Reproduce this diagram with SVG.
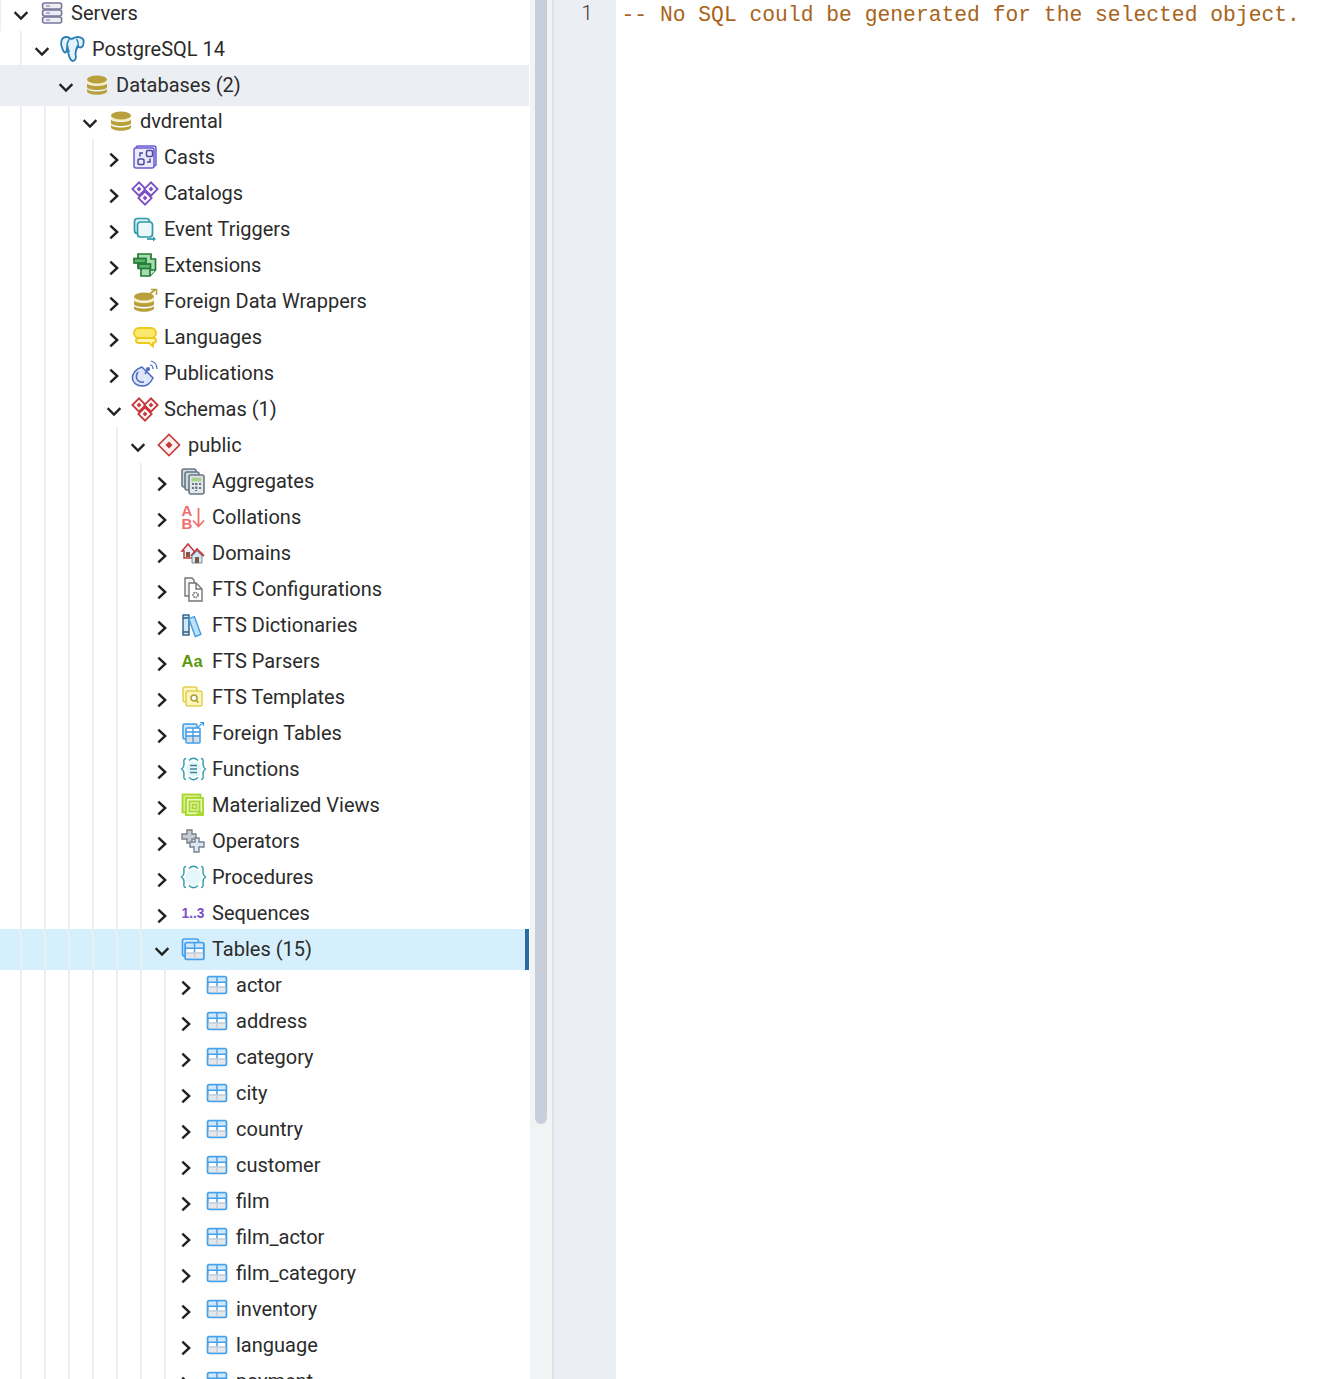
<svg xmlns="http://www.w3.org/2000/svg" xmlns:xlink="http://www.w3.org/1999/xlink" width="1344" height="1379" viewBox="0 0 1344 1379">
<style>
text.l{font-family:Roboto,"Liberation Sans",sans-serif;font-size:20px;fill:#2b2b2b}
.g{stroke:#ebeef3;stroke-width:2;fill:none}
.ch{fill:none;stroke:#222;stroke-width:2.4;stroke-linecap:square}
.code{font-family:"Liberation Mono",monospace;font-size:21.33px;fill:#a9641c}
.ic{font-family:"Liberation Sans",sans-serif;font-weight:700}
</style>
<defs>
<path id="cr" class="ch" d="M-2.800-5.500 3.200 0-2.800 5.500"/>
<path id="cd" class="ch" d="M-5.500-3 0 2.500 5.500-3"/>
<g id="db">
<path d="M-10-2C-10 2 10 2 10-2V2C10 6-10 6-10 2Z" fill="#b8a03c"/>
<path d="M-10 3.500C-10 7.500 10 7.500 10 3.500V6C10 11-10 11-10 6Z" fill="#b8a03c"/>
<path d="M-10-5V-2C-10 1 10 1 10-2V-5Z" fill="#f7efc8"/>
<ellipse cx="0" cy="-5.500" rx="10" ry="4" fill="#b8a03c"/>
</g>
<g id="dm"><rect x="-4.700" y="-4.700" width="9.400" height="9.400" transform="rotate(45)" fill="#fff" stroke="currentColor" stroke-width="1.800"/><rect x="-1.700" y="-1.700" width="3.400" height="3.400" transform="rotate(45)" fill="currentColor"/></g>
<g id="tb">
<rect x="-9.300" y="-8.300" width="18.600" height="16.600" rx="1.500" fill="#fff" stroke="#45a0ea" stroke-width="2"/>
<rect x="-8.400" y="-7.400" width="16.800" height="4.600" fill="#cfe7fb"/>
<rect x="-8.400" y="2" width="16.800" height="5.400" fill="#e4e7ec"/>
<path d="M-9-2.700H9M0-8V2" stroke="#45a0ea" stroke-width="1.500" fill="none"/>
<path d="M-8.400 2H8.400M0 2V8" stroke="#c4ccd6" stroke-width="1.500"/>
</g>
<path id="braces" fill="none" d="M-7-10.500C-10-10.500-9-7-9-4.500C-9-2-10-1-11.500 0C-10 1-9 2-9 4.500C-9 7-10 10.500-7 10.500M8-10.500C11-10.500 10-7 10-4.500C10-2 11-1 12.500 0C11 1 10 2 10 4.500C10 7 11 10.500 8 10.500M-4-8.500C-1-11.500 2-11.500 5-8.500M-4 8.500C-1 11.500 2 11.500 5 8.500"/>
</defs>

<rect id="panel" x="530" y="0" width="22" height="1379" fill="#f2f3f5"/>
<rect id="scrollbar" x="535" y="-8" width="12" height="1132" rx="6" fill="#c8cfdb"/>
<rect x="552" y="0" width="2" height="1379" fill="#dfe2e9"/>
<rect id="gutter" x="554" y="0" width="62" height="1379" fill="#ebeef3"/>

<rect x="0" y="65" width="529" height="41" fill="#ebeef3"/>
<rect x="0" y="929" width="525" height="41" fill="#d6effc"/>
<rect x="525" y="929" width="4" height="41" fill="#2d6aa3"/>

<g id="connectors">
<path class="g" d="M0 0V31M21 31V65M21 106V1379M45 106V1379M69 106V1379M93 139V1379M117 427V1379M141 463V1379M165 967V1379"/>
</g>

<g id="servers"><path transform="translate(21,16)" d="M-5.500-3 0 2.500 5.500-3" class="ch"/>
<g transform="translate(52,13)" fill="#eeeef4" stroke="#77759a" stroke-width="1.600"><rect x="-9.400" y="-10" width="19" height="6" rx="2"/><rect x="-9.400" y="-3" width="19" height="6" rx="2"/><rect x="-9.400" y="4" width="19" height="6" rx="2"/><path d="M-6-7h4M-6 0h4M-6 7h4" stroke-width="1.200"/></g>
<text class="l" x="71" y="20">Servers</text></g>

<g id="postgresql-14"><use href="#cd" x="42" y="52"/>
<g transform="translate(72.500,49)" fill="#e4f3fb" stroke="#2a7db5" stroke-width="1.800" stroke-linejoin="round"><path d="M-6-12C-12-12-12.500-5-10 0-9 3-7 5-6 2L-5-3C-5 3-3 11 0 12 3 12 4 9 3 5 3 2 4 0 5-3 8 0 11-2 11-6 12-10 9-12 5-12 2-12 0-10-1-10-3-11-4-12-6-12Z"/><path d="M-3-10C-7-5-6-1-3 3M4-10C7-6 6-2 3 2" fill="none" stroke-width="1.400"/></g>
<text class="l" x="92" y="56">PostgreSQL 14</text></g>

<g id="databases"><use href="#cd" x="66" y="88"/><use href="#db" x="97" y="85"/><text class="l" x="116" y="92">Databases (2)</text></g>
<g id="dvdrental"><use href="#cd" x="90" y="124"/><use href="#db" x="121" y="121"/><text class="l" x="140" y="128">dvdrental</text></g>

<g id="casts"><use href="#cr" x="114" y="160"/>
<g transform="translate(145,157)" fill="none" stroke="#6c5ccf" stroke-width="1.500"><rect x="-9" y="-11" width="20" height="20" rx="2" fill="#e0dcf8"/><rect x="-11" y="-9" width="20" height="20" rx="2" fill="#ece9fb"/><rect x="-7" y="2" width="6" height="5.500" rx="1.200" stroke="#4a4a9c"/><rect x="1.500" y="-6.500" width="6" height="6" rx="1.200" stroke="#4a4a9c"/><path d="M-5-.5V-4H-2M5 1.500V5H2" stroke="#4a4a9c"/></g>
<text class="l" x="164" y="164">Casts</text></g>

<g id="catalogs"><use href="#cr" x="114" y="196"/>
<g transform="translate(145,193)" color="#7b4fc4"><use href="#dm" x="-6" y="-4"/><use href="#dm" x="6" y="-4"/><use href="#dm" x="0" y="5"/></g>
<text class="l" x="164" y="200">Catalogs</text></g>

<g id="event-triggers"><use href="#cr" x="114" y="232"/>
<g transform="translate(145,229)" stroke="#2e9aa8" stroke-width="1.700" fill="#eaf8fa"><rect x="-10.500" y="-10.500" width="15" height="15" rx="3" fill="#d8f1f5"/><rect x="-7.500" y="-7" width="15" height="15" rx="3"/><path d="M2 10H9" fill="none"/><path d="M8 7.500 11 10 8 12.500Z" fill="#2e9aa8" stroke="none"/></g>
<text class="l" x="164" y="236">Event Triggers</text></g>

<g id="extensions"><use href="#cr" x="114" y="268"/>
<g transform="translate(145,265)" stroke="#237a35" stroke-width="1.700" fill="#a8dcae"><path d="M-7-11H6V-6H10.500V5L5 11H-4V3H-7Z"/><rect x="-11" y="-6.500" width="12" height="4.500" fill="#5fb56e"/><rect x="-6.500" y="-1" width="12" height="4.500" fill="#5fb56e"/><path d="M5 11V5H10.500" fill="#d8f0d8"/></g>
<text class="l" x="164" y="272">Extensions</text></g>

<g id="foreign-data-wrappers"><use href="#cr" x="114" y="304"/>
<use href="#db" transform="translate(144,302)"/><path d="M148 295 155 290M151 289.500H156.500V295" fill="none" stroke="#b8a03c" stroke-width="1.600"/>
<text class="l" x="164" y="308">Foreign Data Wrappers</text></g>

<g id="languages"><use href="#cr" x="114" y="340"/>
<g transform="translate(145,337)" stroke="#ecc91c" stroke-width="1.900" fill="#fbe96e"><path d="M-6 1H8C12 1 12 6 8 6V9.500L4 6H-6C-10 6-10 1-6 1Z" fill="#fff6b0"/><rect x="-11" y="-9" width="22" height="10" rx="5"/></g>
<text class="l" x="164" y="344">Languages</text></g>

<g id="publications"><use href="#cr" x="114" y="376"/>
<g transform="translate(145,373)" fill="none" stroke="#4a6cc0" stroke-width="1.500"><path d="M-3-6C-16-2-16 13-2 13 3 13 6 9 8 5Z" fill="#dfe6f8"/><path d="M-7-1C-11 5-7 10-1 9" /><path d="M0 1 3-4" /><circle cx="3" cy="-4" r="2" fill="#4a6cc0" stroke="none"/><path d="M5-8C7-8 8-6 8-4M6-12C10-11 12-8 12-4" stroke-width="1.200"/></g>
<text class="l" x="164" y="380">Publications</text></g>

<g id="schemas"><use href="#cd" x="114" y="412"/>
<g transform="translate(145,409)" color="#c5383b"><use href="#dm" x="-6" y="-4"/><use href="#dm" x="6" y="-4"/><use href="#dm" x="0" y="5"/></g>
<text class="l" x="164" y="416">Schemas (1)</text></g>

<g id="public"><use href="#cd" x="138" y="448"/>
<g transform="translate(169,445)"><rect x="-7.500" y="-7.500" width="15" height="15" transform="rotate(45)" fill="#fdf0f0" stroke="#c5383b" stroke-width="1.600"/><rect x="-2.500" y="-2.500" width="5" height="5" transform="rotate(45)" fill="#c5383b"/></g>
<text class="l" x="188" y="452">public</text></g>

<g id="aggregates"><use href="#cr" x="162" y="484"/>
<g transform="translate(193,481)" stroke="#6f7680" stroke-width="1.600"><rect x="-11" y="-12" width="14" height="18" rx="2" fill="#c7dbe0"/><rect x="-8" y="-9" width="14" height="18" rx="2" fill="#c7dbe0"/><rect x="-4" y="-6" width="15" height="19" rx="2" fill="#dfe7ea"/><rect x="-1.500" y="-3.500" width="10" height="4" fill="#a7d18c" stroke="none"/><path d="M-1 3H8M-1 7H8M3 2V10" stroke="#6f7680" stroke-width="2" stroke-dasharray="2 1.500"/></g>
<text class="l" x="212" y="488">Aggregates</text></g>

<g id="collations"><use href="#cr" x="162" y="520"/>
<g fill="#ee6e6e"><text class="ic" x="181.500" y="516" font-size="15">A</text><text class="ic" x="181.500" y="528.500" font-size="15">B</text></g>
<path d="M198.500 508V526M193 520.500 198.500 526.500 204 520.500" fill="none" stroke="#ee6e6e" stroke-width="1.800"/>
<text class="l" x="212" y="524">Collations</text></g>

<g id="domains"><use href="#cr" x="162" y="556"/>
<g transform="translate(193,553)"><path d="M-11-2-5-9 1-2V5H-9V-2Z" fill="#eef" stroke="#c5383b" stroke-width="1.500"/><rect x="-7" y="-1" width="4" height="5" fill="#7a5a3c"/><path d="M-2 3 4-4 11 3" fill="none" stroke="#c5383b" stroke-width="1.800"/><path d="M-1 3 4-2 9 3V10H-1Z" fill="#d2e6f6" stroke="#7a8a9a" stroke-width="1"/><rect x="2" y="4" width="4" height="6" fill="#7a5a3c"/></g>
<text class="l" x="212" y="560">Domains</text></g>

<g id="fts-configurations"><use href="#cr" x="162" y="592"/>
<g transform="translate(193,589)" stroke="#75757a" stroke-width="1.400" fill="#f5f5f5"><path d="M-8-11H-1L1-9V7H-8Z"/><path d="M-4-6H3L9 0V12H-4Z" fill="#fff"/><path d="M3-6V0H9" fill="none"/><circle cx="2.500" cy="6" r="2.500" fill="none" stroke-width="1.700" stroke-dasharray="1.500 .8"/></g>
<text class="l" x="212" y="596">FTS Configurations</text></g>

<g id="fts-dictionaries"><use href="#cr" x="162" y="628"/>
<g transform="translate(193,625)" stroke-width="1.400"><rect x="-10" y="-10" width="6" height="20" fill="#cfe8f4" stroke="#2f5e86"/><path d="M-10-7H-4M-10 7H-4" stroke="#2f5e86"/><rect x="-1" y="-8" width="6" height="19" transform="rotate(-20 2 2)" fill="#bfe2f7" stroke="#3f9ce6"/></g>
<text class="l" x="212" y="632">FTS Dictionaries</text></g>

<g id="fts-parsers"><use href="#cr" x="162" y="664"/>
<text class="ic" x="181.500" y="667" font-size="16.500" fill="#5a9a0c">Aa</text>
<text class="l" x="212" y="668">FTS Parsers</text></g>

<g id="fts-templates"><use href="#cr" x="162" y="700"/>
<g transform="translate(193,697)" stroke="#e0cf52" stroke-width="1.500" fill="#fff7c4"><rect x="-10" y="-10" width="14" height="15" rx="2"/><rect x="-7" y="-6" width="16" height="15" rx="2" fill="#fdf6b8"/><circle cx="1" cy="1" r="3" fill="#fff" stroke="#a89a3a"/><path d="M3 3 5.500 5.500" stroke="#a89a3a"/></g>
<text class="l" x="212" y="704">FTS Templates</text></g>

<g id="foreign-tables"><use href="#cr" x="162" y="736"/>
<g transform="translate(193,733)"><rect x="-10" y="-9" width="14" height="15" rx="1.500" fill="#cfe7fb" stroke="#3f9ce6" stroke-width="1.500"/><rect x="-7" y="-5" width="14" height="15" rx="1" fill="#fff" stroke="#3f9ce6" stroke-width="1.500"/><rect x="-6" y="2" width="12" height="7" fill="#d8dde4"/><path d="M-7-1H7M-7 3H7M0-5V10" stroke="#3f9ce6" stroke-width="1.300"/><path d="M5-6 10-10M7-10.500H10.500V-7" fill="none" stroke="#3f9ce6" stroke-width="1.200"/></g>
<text class="l" x="212" y="740">Foreign Tables</text></g>

<g id="functions"><use href="#cr" x="162" y="772"/>
<g transform="translate(193,769)" stroke="#2e9aa8" stroke-width="1.400"><circle cx=".5" cy="0" r="8" fill="#e4f8fb" stroke="none"/><use href="#braces"/><path d="M-3-3.500H4M-3 0H4M-3 3.500H4" fill="none" stroke="#3f7f9a"/></g>
<text class="l" x="212" y="776">Functions</text></g>

<g id="materialized-views"><use href="#cr" x="162" y="808"/>
<g transform="translate(193,805)" fill="none" stroke="#a6d62a" stroke-width="1.800"><rect x="-10.500" y="-10.500" width="18" height="18" fill="#d6ee8e"/><rect x="-7" y="-7" width="17" height="17" fill="#eaf7c0"/><rect x="-3.500" y="-3.500" width="10" height="10"/><rect x="-.5" y="-.5" width="4" height="4"/><path d="M4 10 7 7 10 10" /></g>
<text class="l" x="212" y="812">Materialized Views</text></g>

<g id="operators"><use href="#cr" x="162" y="844"/>
<g transform="translate(193,841)" stroke="#7a818c" stroke-width="1.400" fill="#c8ccd2"><path d="M-6-11H-1V-7H3V-2H-1V2H-6V-2H-11V-7H-6Z"/><path d="M2-3H6V1H11V6H6V11H1V6H-3V1H2Z" fill="#dbe8f5"/></g>
<text class="l" x="212" y="848">Operators</text></g>

<g id="procedures"><use href="#cr" x="162" y="880"/>
<g transform="translate(193,877)" stroke="#2e9aa8" stroke-width="1.400"><circle cx=".5" cy="0" r="8" fill="#e4f8fb" stroke="none"/><use href="#braces"/></g>
<text class="l" x="212" y="884">Procedures</text></g>

<g id="sequences"><use href="#cr" x="162" y="916"/>
<text class="ic" x="181.500" y="918" font-size="15" fill="#7a4fc8" textLength="23" lengthAdjust="spacingAndGlyphs">1..3</text>
<text class="l" x="212" y="920">Sequences</text></g>

<g id="tables"><use href="#cd" x="162" y="952"/>
<rect x="182.500" y="939" width="16" height="17" rx="2" fill="#d8effc" stroke="#45a0ea" stroke-width="1.700"/><use href="#tb" x="194.500" y="951"/>
<text class="l" x="212" y="956">Tables (15)</text></g>

<g id="actor"><use href="#cr" x="186" y="988"/><use href="#tb" x="217" y="985"/><text class="l" x="236" y="992">actor</text></g>
<g id="address"><use href="#cr" x="186" y="1024"/><use href="#tb" x="217" y="1021"/><text class="l" x="236" y="1028">address</text></g>
<g id="category"><use href="#cr" x="186" y="1060"/><use href="#tb" x="217" y="1057"/><text class="l" x="236" y="1064">category</text></g>
<g id="city"><use href="#cr" x="186" y="1096"/><use href="#tb" x="217" y="1093"/><text class="l" x="236" y="1100">city</text></g>
<g id="country"><use href="#cr" x="186" y="1132"/><use href="#tb" x="217" y="1129"/><text class="l" x="236" y="1136">country</text></g>
<g id="customer"><use href="#cr" x="186" y="1168"/><use href="#tb" x="217" y="1165"/><text class="l" x="236" y="1172">customer</text></g>
<g id="film"><use href="#cr" x="186" y="1204"/><use href="#tb" x="217" y="1201"/><text class="l" x="236" y="1208">film</text></g>
<g id="film_actor"><use href="#cr" x="186" y="1240"/><use href="#tb" x="217" y="1237"/><text class="l" x="236" y="1244">film_actor</text></g>
<g id="film_category"><use href="#cr" x="186" y="1276"/><use href="#tb" x="217" y="1273"/><text class="l" x="236" y="1280">film_category</text></g>
<g id="inventory"><use href="#cr" x="186" y="1312"/><use href="#tb" x="217" y="1309"/><text class="l" x="236" y="1316">inventory</text></g>
<g id="language"><use href="#cr" x="186" y="1348"/><use href="#tb" x="217" y="1345"/><text class="l" x="236" y="1352">language</text></g>
<g id="payment"><use href="#cr" x="186" y="1384"/><use href="#tb" x="217" y="1381"/><text class="l" x="236" y="1388">payment</text></g>

<text x="587" y="20" text-anchor="middle" font-family="Roboto,sans-serif" font-weight="300" font-size="20" fill="#333">1</text>
<text class="code" x="621.500" y="21">-- No SQL could be generated for the selected object.</text>
</svg>
